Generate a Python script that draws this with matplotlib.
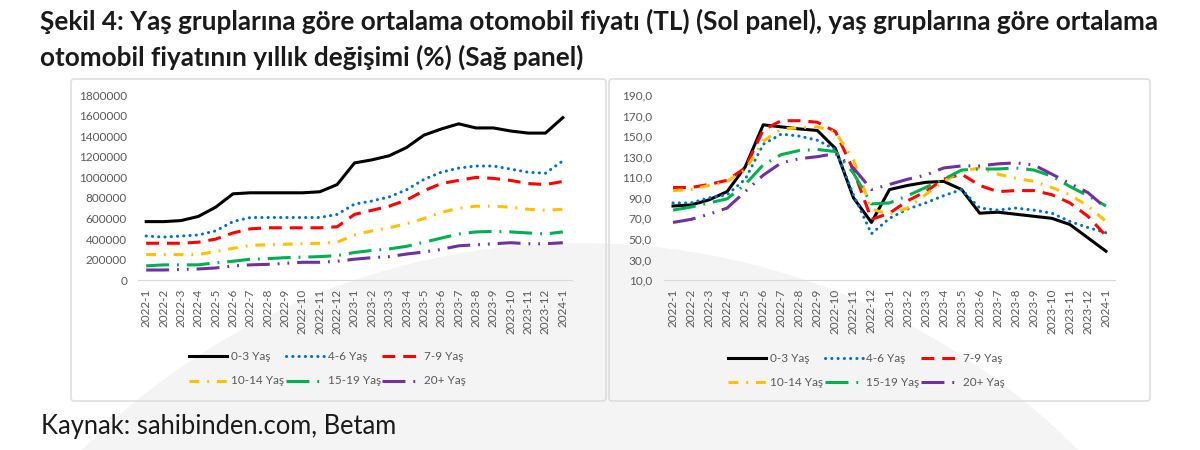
import matplotlib
matplotlib.use("Agg")
import matplotlib.pyplot as plt
from matplotlib.patches import Ellipse, FancyBboxPatch
from matplotlib.lines import Line2D

plt.rcParams['font.family'] = ['Lato', 'DejaVu Sans']

months = ["2022-1", "2022-2", "2022-3", "2022-4", "2022-5", "2022-6", "2022-7", "2022-8",
          "2022-9", "2022-10", "2022-11", "2022-12", "2023-1", "2023-2", "2023-3", "2023-4",
          "2023-5", "2023-6", "2023-7", "2023-8", "2023-9", "2023-10", "2023-11", "2023-12",
          "2024-1"]
groups = ["0-3 Yaş", "4-6 Yaş", "7-9 Yaş", "10-14 Yaş", "15-19 Yaş", "20+ Yaş"]

# Left panel: average price (TL)
price_0_3 = [570000, 570000, 580000, 620000, 710000, 840000, 850000, 850000, 850000, 850000,
             860000, 930000, 1140000, 1170000, 1210000, 1290000, 1410000, 1470000, 1520000,
             1480000, 1480000, 1450000, 1430000, 1430000, 1580000]
price_4_6 = [430000, 420000, 430000, 440000, 480000, 570000, 610000, 610000, 610000, 610000,
             610000, 640000, 740000, 770000, 810000, 880000, 980000, 1050000, 1090000,
             1110000, 1110000, 1080000, 1050000, 1040000, 1160000]
price_7_9 = [360000, 360000, 360000, 370000, 400000, 460000, 500000, 510000, 510000, 510000,
             510000, 520000, 640000, 680000, 720000, 780000, 870000, 940000, 970000,
             1000000, 990000, 970000, 940000, 930000, 960000]
price_10_14 = [250000, 250000, 250000, 250000, 280000, 310000, 340000, 345000, 350000, 355000,
               360000, 370000, 440000, 480000, 510000, 550000, 600000, 660000, 700000,
               720000, 720000, 710000, 690000, 680000, 690000]
price_15_19 = [140000, 150000, 150000, 150000, 170000, 185000, 205000, 210000, 220000, 225000,
               230000, 240000, 270000, 290000, 305000, 330000, 370000, 410000, 450000,
               470000, 475000, 470000, 460000, 450000, 470000]
price_20p = [100000, 100000, 105000, 110000, 120000, 140000, 150000, 155000, 165000, 175000,
             175000, 185000, 205000, 220000, 230000, 255000, 275000, 300000, 335000,
             345000, 355000, 365000, 355000, 355000, 365000]

# Right panel: annual change (%)
chg_0_3 = [82, 83, 88, 96, 120, 161, 159, 157, 155.5, 138, 90, 66, 98, 102, 105, 106, 98, 75,
           76, 74, 72, 70, 64, 51, 38]
chg_4_6 = [85, 85, 90, 93, 108, 142, 152, 150, 146, 137, 93, 55, 70, 79, 85, 92, 98, 80, 78,
           80, 78, 75, 67, 61, 56]
chg_7_9 = [100, 100, 103, 107, 119, 156, 165, 165, 163.5, 154.5, 117, 69, 75, 87, 96, 108, 113,
           102, 96, 97, 97, 93, 85, 72, 53]
chg_10_14 = [97, 98, 102, 106, 117, 145, 157, 158, 159, 154, 127, 79, 74, 80, 93, 106, 116, 119,
             113, 109, 106, 100, 93, 82, 67]
chg_15_19 = [78, 81, 85, 89, 103, 122, 132, 136, 137, 135, 114, 84, 85, 92, 100, 108, 117, 118,
             118, 119, 117, 111, 101, 92, 82]
chg_20p = [66, 69, 74, 80, 96, 112, 124, 128, 130, 133, 119, 98, 103, 108, 112, 119, 121, 121,
           123, 124, 122, 113, 104, 95, 80]

left_series = [price_0_3, price_4_6, price_7_9, price_10_14, price_15_19, price_20p]
right_series = [chg_0_3, chg_4_6, chg_7_9, chg_10_14, chg_15_19, chg_20p]

colors = ["#000000", "#0070C0", "#FF0000", "#FFC000", "#00B050", "#7030A0"]
lw = 2.2
styles = [
    dict(linestyle='-'),
    dict(linestyle=(0, (0.05, 2.0)), dash_capstyle='round'),
    dict(linestyle=(0, (4.2, 2.6))),
    dict(linestyle=(0, (3.2, 2.6, 0.6, 2.6))),
    dict(linestyle=(0, (7.5, 2.6, 0.6, 2.6))),
    dict(linestyle=(0, (7.5, 2.6, 0.6, 2.6, 0.6, 2.6))),
]

W, H = 1200, 450
fig = plt.figure(figsize=(12, 4.5), dpi=100)


def fx(px):
    return px / W


def fy(py):
    return 1 - py / H


# background layer with faint watermark arc
bgax = fig.add_axes([0, 0, 1, 1], zorder=-10)
bgax.set_xlim(0, W)
bgax.set_ylim(H, 0)
bgax.axis('off')
bgax.add_patch(Ellipse((580, 946), 2 * 703, 2 * 703, facecolor="#f4f4f4", edgecolor='none'))

# panel frames
for x0, x1 in [(71, 606), (609, 1150)]:
    bgax.add_patch(FancyBboxPatch((x0, 79), x1 - x0, 401 - 79,
                                  boxstyle="round,pad=0,rounding_size=3",
                                  facecolor='none', edgecolor="#d9d9d9", linewidth=1.0))

title_kw = dict(fontsize=18.8, fontweight='bold', color='#1a1a1a', va='center', ha='left')
fig.text(fx(40), fy(21), "Şekil 4: Yaş gruplarına göre ortalama otomobil fiyatı (TL) (Sol panel), "
         "yaş gruplarına göre ortalama", **title_kw)
fig.text(fx(40), fy(57), "otomobil fiyatının yıllık değişimi (%) (Sağ panel)", **title_kw)
fig.text(fx(41), fy(434), "Kaynak: sahibinden.com, Betam", fontsize=18.4, color='#1a1a1a',
         va='baseline', ha='left')

axL = fig.add_axes([fx(137.5), fy(280.3), fx(434), 185.3 / H])
axR = fig.add_axes([fx(664), fy(280), fx(451), 185 / H])

x = list(range(len(months)))
for ax, series in [(axL, left_series), (axR, right_series)]:
    ax.patch.set_alpha(0)
    for s, c, st, g in zip(series, colors, styles, groups):
        ax.plot(x, s, color=c, linewidth=lw, label=g, **st)
    ax.set_xlim(-0.5, len(months) - 0.5)
    ax.set_xticks(x)
    ax.set_xticklabels(months, rotation=90, fontsize=8.5, color='#595959')
    for sp in ['top', 'right', 'left']:
        ax.spines[sp].set_visible(False)
    ax.spines['bottom'].set_color('#d9d9d9')
    ax.tick_params(axis='both', length=0, labelsize=8.5, colors='#595959')
    ax.tick_params(axis='x', pad=6)

axL.set_ylim(0, 1800000)
lt = list(range(0, 1800001, 200000))
axL.set_yticks(lt)
axL.set_yticklabels([str(v) for v in lt])
axL.tick_params(axis='y', pad=7.5)

axR.set_ylim(10, 190)
rt = list(range(10, 191, 20))
axR.set_yticks(rt)
axR.set_yticklabels([f"{v},0" for v in rt])
axR.tick_params(axis='y', pad=8.6)

# manual Excel-like legends (row-wise, equal column widths)
def draw_legend(x0, y_rows):
    for i, (g, c, st) in enumerate(zip(groups, colors, styles)):
        row, col = divmod(i, 3)
        hx = x0 + col * 96.5
        yy = y_rows[row]
        bgax.add_line(Line2D([hx, hx + 38], [yy, yy], color=c, linewidth=lw, **st))
        bgax.text(hx + 42, yy, g, fontsize=8.5, color='#595959', va='center', ha='left')


draw_legend(189, [356, 381])
draw_legend(728, [358, 382])

fig.savefig("out.png", dpi=100)
